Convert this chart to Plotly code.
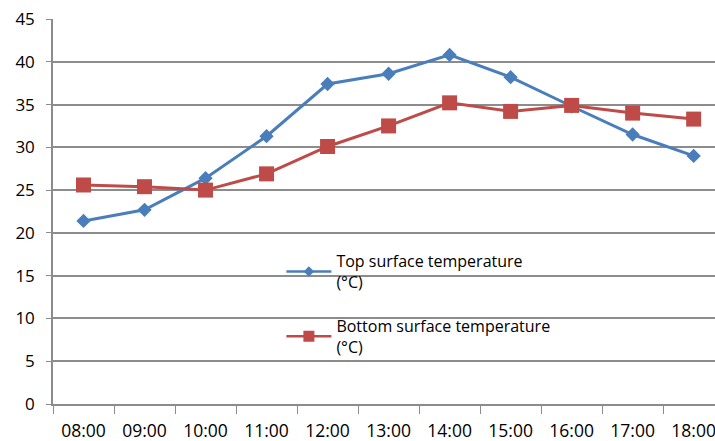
import plotly.graph_objects as go

hours = ["08:00", "09:00", "10:00", "11:00", "12:00", "13:00",
         "14:00", "15:00", "16:00", "17:00", "18:00"]
top_temp = [21.4, 22.7, 26.4, 31.3, 37.4, 38.6, 40.8, 38.2, 34.8, 31.5, 29.0]
bottom_temp = [25.6, 25.4, 25.0, 26.9, 30.1, 32.5, 35.2, 34.2, 34.9, 34.0, 33.3]
y_ticks = [0, 5, 10, 15, 20, 25, 30, 35, 40, 45]
names = ["Top surface temperature<br>(°C)", "Bottom surface temperature<br>(°C)"]

FONT = "Open Sans"
GRID = "#8c8c8c"
BLUE = "#4a7ebb"
RED = "#be4b48"

fig = go.Figure()
fig.add_trace(go.Scatter(
    x=hours, y=top_temp, mode="lines+markers", showlegend=False,
    line=dict(color=BLUE, width=3),
    marker=dict(symbol="diamond", size=11, color=BLUE),
))
fig.add_trace(go.Scatter(
    x=hours, y=bottom_temp, mode="lines+markers", showlegend=False,
    line=dict(color=RED, width=3),
    marker=dict(symbol="square", size=15, color=RED),
))
# legend entries (smaller symbols, as in the reference legend)
fig.add_trace(go.Scatter(
    x=[None], y=[None], mode="lines+markers", name=names[0], legendgroup="a",
    line=dict(color=BLUE, width=2.5),
    marker=dict(symbol="diamond", size=8, color=BLUE),
))
fig.add_trace(go.Scatter(
    x=[None], y=[None], mode="lines+markers", name=names[1], legendgroup="b",
    line=dict(color=RED, width=2.5),
    marker=dict(symbol="square", size=11, color=RED),
))

fig.update_layout(
    width=715, height=441,
    margin=dict(l=53, r=0, t=19, b=37),
    paper_bgcolor="white", plot_bgcolor="white",
    font=dict(family=FONT, size=16, color="#000000"),
    showlegend=True,
    legend=dict(
        x=0.345, y=0.415, xanchor="left", yanchor="top",
        bgcolor="rgba(0,0,0,0)", font=dict(family=FONT, size=16),
        tracegroupgap=20, itemwidth=45,
    ),
    xaxis=dict(
        type="category", range=[-0.5, 10.35], automargin=False,
        showgrid=False, showline=True, linecolor=GRID, linewidth=1.5,
        ticks="outside", tickson="boundaries", ticklen=8, tickcolor=GRID,
        ticklabelstandoff=10, tickfont=dict(size=17.5),
    ),
    yaxis=dict(
        range=[0, 45], tickvals=y_ticks, automargin=False,
        showgrid=True, gridcolor=GRID, gridwidth=1.5,
        showline=True, linecolor=GRID, linewidth=1.5,
        ticks="outside", ticklen=5, tickcolor=GRID,
        zeroline=False, ticklabelstandoff=8, tickfont=dict(size=17),
    ),
)

fig.write_html(
    "out.html",
    config={"displayModeBar": False},
    post_script="document.body.style.margin='0';document.body.style.overflow='hidden';",
)
